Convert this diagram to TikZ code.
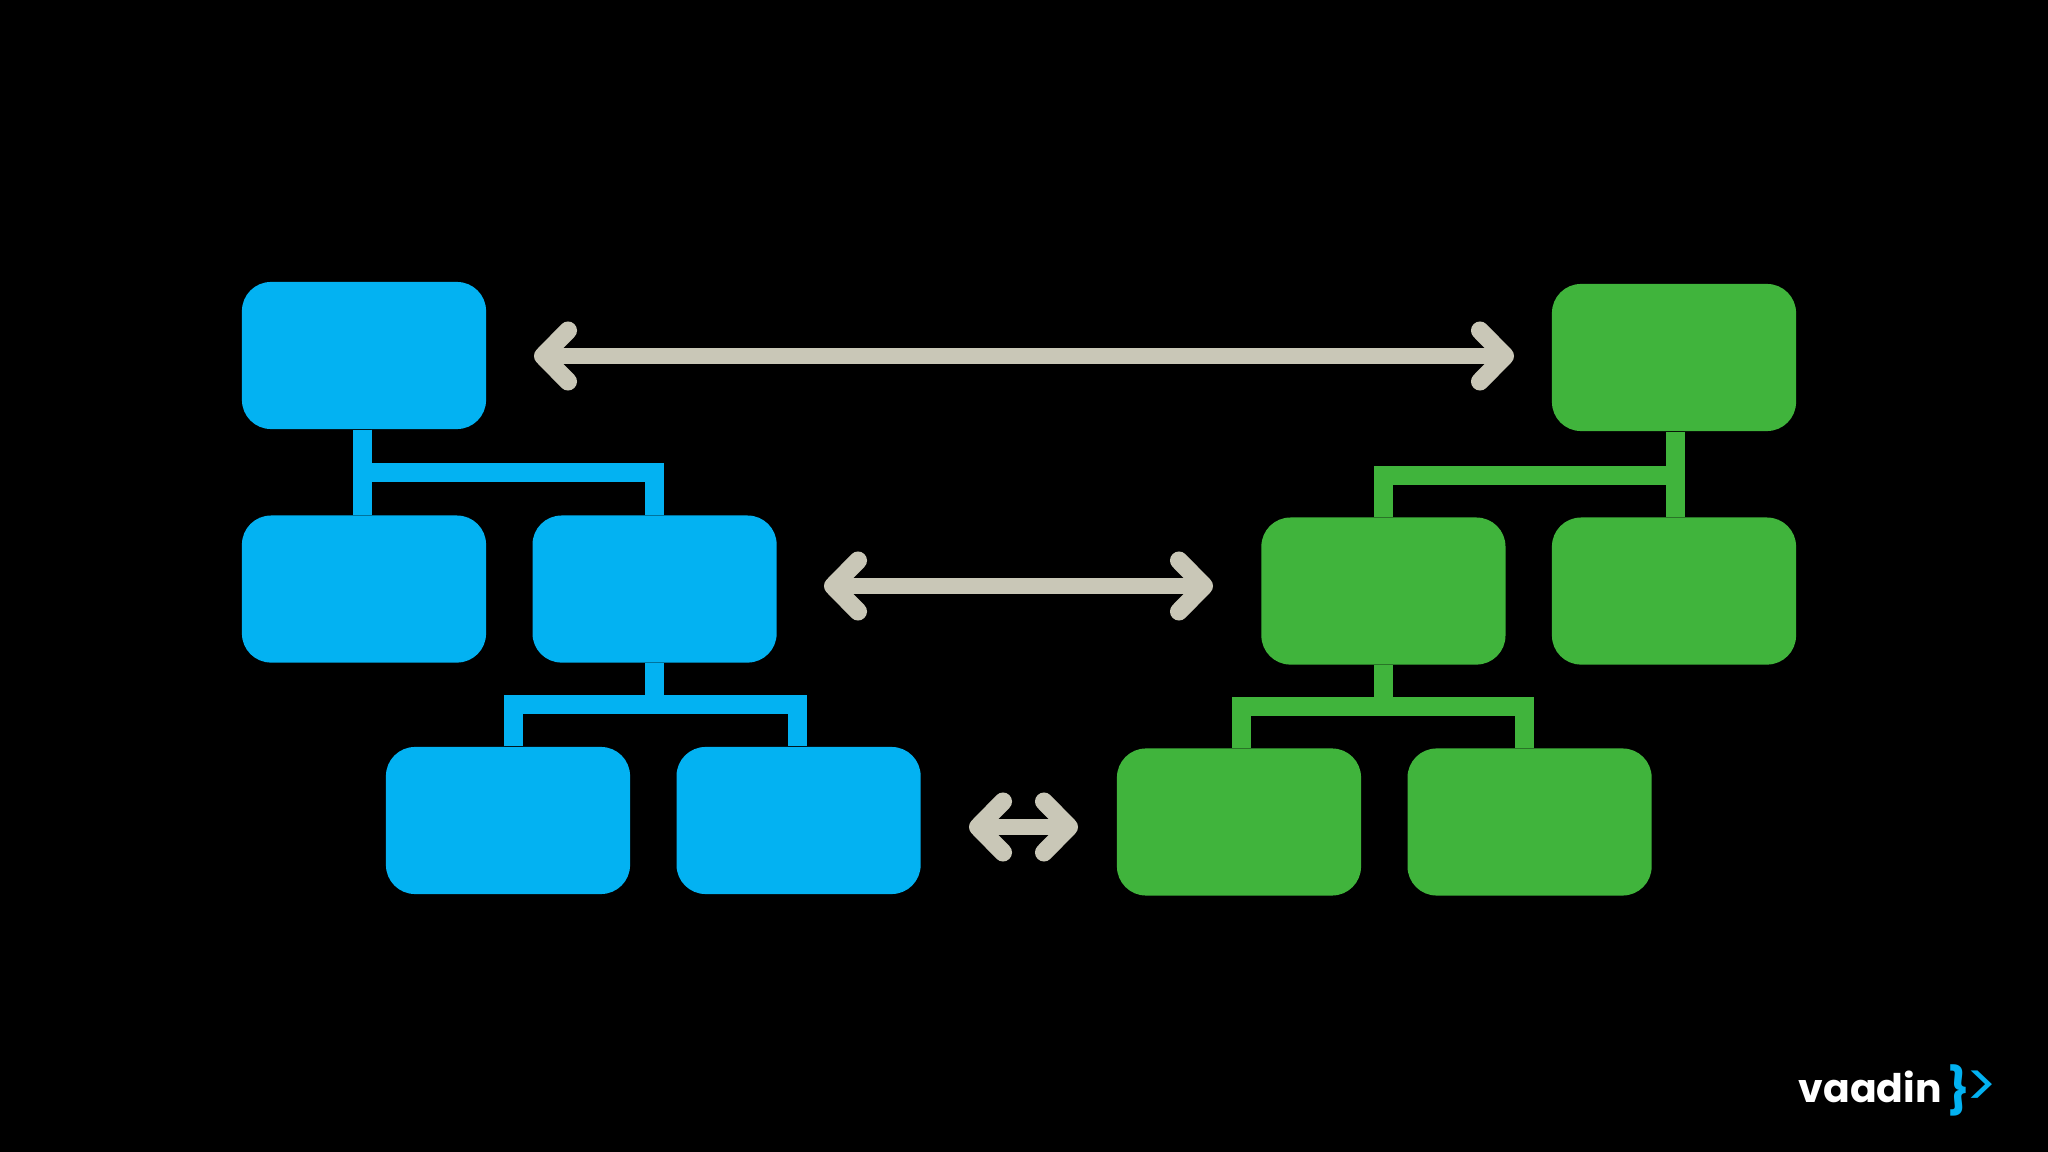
\documentclass[tikz,border=0pt]{standalone}
\usepackage{fontspec}
\usepackage{xcolor}
\usetikzlibrary{positioning,arrows.meta,calc}
\setmainfont{Poppins}
\definecolor{vblue}{HTML}{03B2F2}
\definecolor{vgreen}{HTML}{40B43C}
\definecolor{vgrey}{HTML}{C9C7B7}
\tikzset{
  bluebox/.style={draw=none,fill=vblue,rounded corners=0.29cm,minimum width=2.44cm,minimum height=1.47cm,inner sep=0pt},
  greenbox/.style={draw=none,fill=vgreen,rounded corners=0.29cm,minimum width=2.44cm,minimum height=1.47cm,inner sep=0pt},
  bluelink/.style={draw=vblue,line width=0.19cm,line cap=butt,line join=miter},
  greenlink/.style={draw=vgreen,line width=0.19cm,line cap=butt,line join=miter},
  syncarrow/.style={draw=vgrey,line width=0.15cm,{Straight Barb[length=0.25cm,width=0.51cm,line width=0.18cm,round]}-{Straight Barb[length=0.25cm,width=0.51cm,line width=0.18cm,round]}},
}

\begin{document}
\begin{tikzpicture}[x=0.01cm,y=-0.01cm,node distance=0.45cm]

\fill[black] (0,0) rectangle (2048,1152);
\useasboundingbox (0,0) rectangle (2048,1152);

% blue tree
\node[bluebox] (broot) at (364,355.5) {};
\node[bluebox,below=0.85cm of broot] (bleft) {};
\node[bluebox,right=of bleft] (bright) {};
\node[bluebox] (bleafa) at (508,820.5) {};
\node[bluebox,right=of bleafa] (bleafb) {};

% green tree
\node[greenbox] (groot) at (1674,357.5) {};
\node[greenbox,below=0.85cm of groot] (gright) {};
\node[greenbox,left=of gright] (gleft) {};
\node[greenbox] (gleafa) at (1239,822) {};
\node[greenbox,right=of gleafa] (gleafb) {};

% links
\coordinate (bjointop) at (362.5,472.5);
\coordinate (bjoinlow) at (654.5,704.5);
\coordinate (bdropa) at (513.5,704.5);
\coordinate (bdropb) at (797,704.5);
\draw[bluelink] (bjointop |- broot.south) -- (bjointop |- bleft.north);
\draw[bluelink] (bjointop) -| (bjoinlow |- bright.north);
\draw[bluelink] (bjoinlow |- bright.south) -- (bjoinlow);
\draw[bluelink] (bdropa |- bleafa.north) |- (bdropb) -- (bdropb |- bleafb.north);

\coordinate (gjointop) at (1675.5,475.5);
\coordinate (gjoinlow) at (1383.5,706.5);
\coordinate (gdropa) at (1241,706.5);
\coordinate (gdropb) at (1524,706.5);
\draw[greenlink] (gjointop |- groot.south) -- (gjointop |- gright.north);
\draw[greenlink] (gjointop) -| (gjoinlow |- gleft.north);
\draw[greenlink] (gjoinlow |- gleft.south) -- (gjoinlow);
\draw[greenlink] (gdropa |- gleafa.north) |- (gdropb) -- (gdropb |- gleafb.north);

% arrows between the trees
\coordinate (atop) at (534,356);
\coordinate (btop) at (1514,356);
\coordinate (amid) at (824,586);
\coordinate (bmid) at (1213,586);
\coordinate (alow) at (969,827);
\coordinate (blow) at (1078,827);
\draw[syncarrow] (atop) -- (btop);
\draw[syncarrow] (amid) -- (bmid);
\draw[syncarrow] (alow) -- (blow);

% logo
\node[text=white,font=\fontsize{11.2pt}{12pt}\selectfont\bfseries,anchor=base west,inner sep=0pt] (vlogo) at (1798,1102) {vaadin};
\node[text=vblue,font=\fontsize{13pt}{13pt}\selectfont\bfseries,inner sep=0pt] (vbrace) at (1959,1090) {\}};
\node[text=vblue,font=\fontsize{17pt}{17pt}\selectfont,inner sep=0pt] (vprompt) at (1982,1089) {>};

\end{tikzpicture}
\end{document}
